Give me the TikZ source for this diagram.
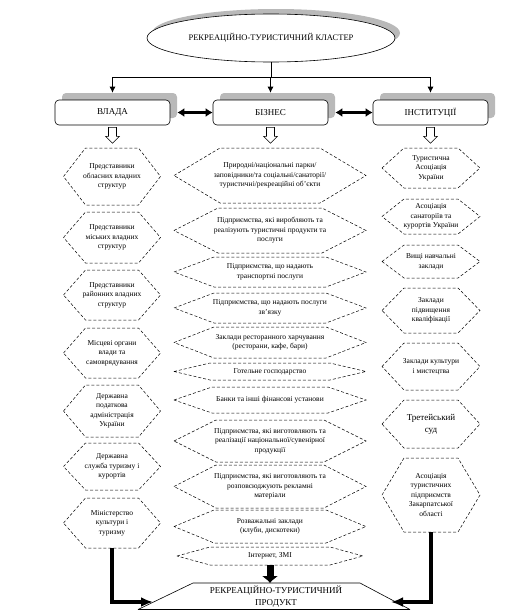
\documentclass[tikz,border=0pt]{standalone}
\usepackage{fontspec}
\setmainfont{Liberation Serif}
\usetikzlibrary{calc,arrows.meta,shapes.geometric,shadows}

\tikzset{
  hextext/.style={align=center,inner sep=0pt,font=\fontsize{7.5}{9.5}\selectfont},
  hexline/.style={draw=black,line width=0.5pt,dash pattern=on 3pt off 2pt},
  sh/.style={general shadow={fill=gray!55,shadow xshift=#1,shadow yshift=#1}},
  box/.style={draw,fill=white,rounded corners=4pt,minimum width=115pt,minimum height=25pt,
     inner sep=0pt,font=\fontsize{9}{10}\selectfont,line width=0.6pt,sh=7pt},
  conn/.style={line width=0.6pt},
  smallarr/.style={conn,-{Latex[length=6pt,width=6pt]}},
  dbl/.style={line width=2.6pt,{Latex[length=7pt,width=9pt]}-{Latex[length=7pt,width=9pt]}},
  outarr/.style={draw,fill=white,line width=0.6pt},
  bigarr/.style={line width=3.8pt,-{Latex[length=12pt,width=10pt]}},
  midarr/.style={line width=7pt,-{Latex[length=7pt,width=17pt]}}
}

% #1 name, #2 cx, #3 cy, #4 w, #5 h, #6 inset, #7 extra node options, #8 text
\newcommand\hexa[8]{%
  \node[hextext,#7] (#1) at (#2,#3) {#8};
  \coordinate (#1-b) at ($(#1.center)+(0,#5/2)$);
  \draw[hexline] ($(#1.center)+(-#4/2,0)$) -- ($(#1.center)+(-#4/2+#6,-#5/2)$)
     -- ($(#1.center)+(#4/2-#6,-#5/2)$) -- ($(#1.center)+(#4/2,0)$)
     -- ($(#1.center)+(#4/2-#6,#5/2)$) -- ($(#1.center)+(-#4/2+#6,#5/2)$) -- cycle;
}

\begin{document}
\begin{tikzpicture}[x=1pt,y=-1pt]
\useasboundingbox (0,0) rectangle (522,613);

% top ellipse
\node[draw,fill=white,ellipse,minimum width=248pt,minimum height=48pt,inner sep=0pt,
      line width=0.6pt,sh=5pt,font=\fontsize{8.5}{10}\selectfont] (kl) at (271,38)
      {РЕКРЕАЦІЙНО-ТУРИСТИЧНИЙ КЛАСТЕР};

% three boxes
\node[box] (vlada) at (112.5,112.5) {ВЛАДА};
\node[box] (biz) at (270.5,112.5) {БІЗНЕС};
\node[box] (inst) at (430.5,112.5) {ІНСТИТУЦІЇ};

% connectors from ellipse
\coordinate (jT) at (271,77);
\coordinate (jL) at (112.5,77);
\coordinate (jR) at (430.5,77);
\draw[conn] (kl.south) -- (jT);
\draw[conn] (jL) -- (jR);
\draw[smallarr] (jL) -- ($(vlada.north)+(0,-7)$);
\draw[smallarr] (jT -| biz.north) -- ($(biz.north)+(0,-7)$);
\draw[smallarr] (jR) -- ($(inst.north)+(0,-7)$);

% double arrows
\draw[dbl] ($(vlada.east)+(7,0)$) -- (biz.west);
\draw[dbl] ($(biz.east)+(7,0)$) -- (inst.west);

% outlined down arrows
\foreach \b in {vlada,biz,inst}{
  \draw[outarr] ($(\b.south)+(-4,2)$) -- ++(0,9) -- ++(-3,0) -- ++(7,7) -- ++(7,-7)
     -- ++(-3,0) -- ++(0,-9) -- cycle;
}

% left column
\hexa{L1}{112}{176.5}{97}{57}{22}{}{Представники\\обласних владних\\структур}
\hexa{L2}{112}{237.5}{97}{51}{22}{}{Представники\\міських владних\\структур}
\hexa{L3}{112}{295}{97}{50}{22}{}{Представники\\районних владних\\структур}
\hexa{L4}{112}{353}{97}{50}{22}{}{Місцеві органи\\влади та\\самоврядування}
\hexa{L5}{112}{411}{97}{52}{22}{}{Державна\\податкова\\адміністрація\\України}
\hexa{L6}{112}{466.5}{97}{47}{22}{}{Державна\\служба туризму і\\курортів}
\hexa{L7}{112}{523}{97}{50}{22}{}{Міністерство\\культури і\\туризму}

% middle column
\hexa{M1}{270}{175.5}{192}{55}{46}{}{Природні/національні парки/\\заповідники/та соціальні/санаторії/\\туристичні/рекреаційні об'єкти}
\hexa{M2}{270}{230.5}{192}{45}{44}{}{Підприємства, які виробляють та\\реалізують туристичні продукти та\\послуги}
\hexa{M3}{270}{272}{192}{30}{40}{}{Підприємства, що надають\\транспортні послуги}
\hexa{M4}{270}{308}{192}{30}{40}{}{Підприємства, що надають послуги\\зв'язку}
\hexa{M5}{270}{342.5}{192}{31}{40}{}{Заклади ресторанного харчування\\(ресторани, кафе, бари)}
\hexa{M6}{270}{371.5}{192}{17}{36}{}{Готельне господарство}
\hexa{M7}{270}{400}{192}{26}{38}{}{Банки та інші фінансові установи}
\hexa{M8}{270}{441}{192}{42}{42}{}{Підприємства, які виготовляють та\\реалізації національної/сувенірної\\продукції}
\hexa{M9}{270}{486.5}{192}{43}{42}{}{Підприємства, які виготовляють та\\розповсюджують рекламні\\матеріали}
\hexa{M10}{270}{526.5}{192}{33}{40}{}{Розважальні заклади\\(клуби, дискотеки)}
\hexa{M11}{270}{556}{186}{18}{33}{}{Інтернет, ЗМІ}

% right column
\hexa{R1}{431}{168}{98}{40}{22}{}{Туристична\\Асоціація\\України}
\hexa{R2}{431}{216.5}{98}{35}{22}{}{Асоціація\\санаторіїв та\\курортів України}
\hexa{R3}{431}{261.5}{98}{33}{22}{}{Вищі навчальні\\заклади}
\hexa{R4}{431}{310.5}{98}{45}{22}{}{Заклади\\підвищення\\кваліфікації}
\hexa{R5}{431}{366.5}{98}{47}{22}{}{Заклади культури\\і мистецтва}
\hexa{R6}{431}{424}{98}{48}{22}{font=\fontsize{9}{12}\selectfont}{Третейський\\суд}
\hexa{R7}{431}{495}{98}{74}{22}{}{Асоціація\\туристичних\\підприємств\\Закарпатської\\області}

% bottom product
\node[align=center,inner sep=0pt,font=\fontsize{9}{12.5}\selectfont] (prod) at (276,596.5)
   {РЕКРЕАЦІЙНО-ТУРИСТИЧНИЙ\\ПРОДУКТ};
\coordinate (pTL) at (193,583);
\coordinate (pTR) at (360,583);
\coordinate (pBR) at (410,609.5);
\coordinate (pBL) at (138,609.5);
\draw[line width=0.6pt] (pBL) -- (pTL) -- (pTR) -- (pBR);
\draw[line width=1.2pt] (pBL) -- (pBR);
\coordinate (pL) at (153,602);
\coordinate (pR) at (391,602);
\coordinate (pT) at (270,583);

% thick arrows
\draw[bigarr] (L7-b) |- (pL);
\draw[bigarr] (R7-b) |- (pR);
\draw[midarr] (M11-b) -- (pT);
\end{tikzpicture}
\end{document}
